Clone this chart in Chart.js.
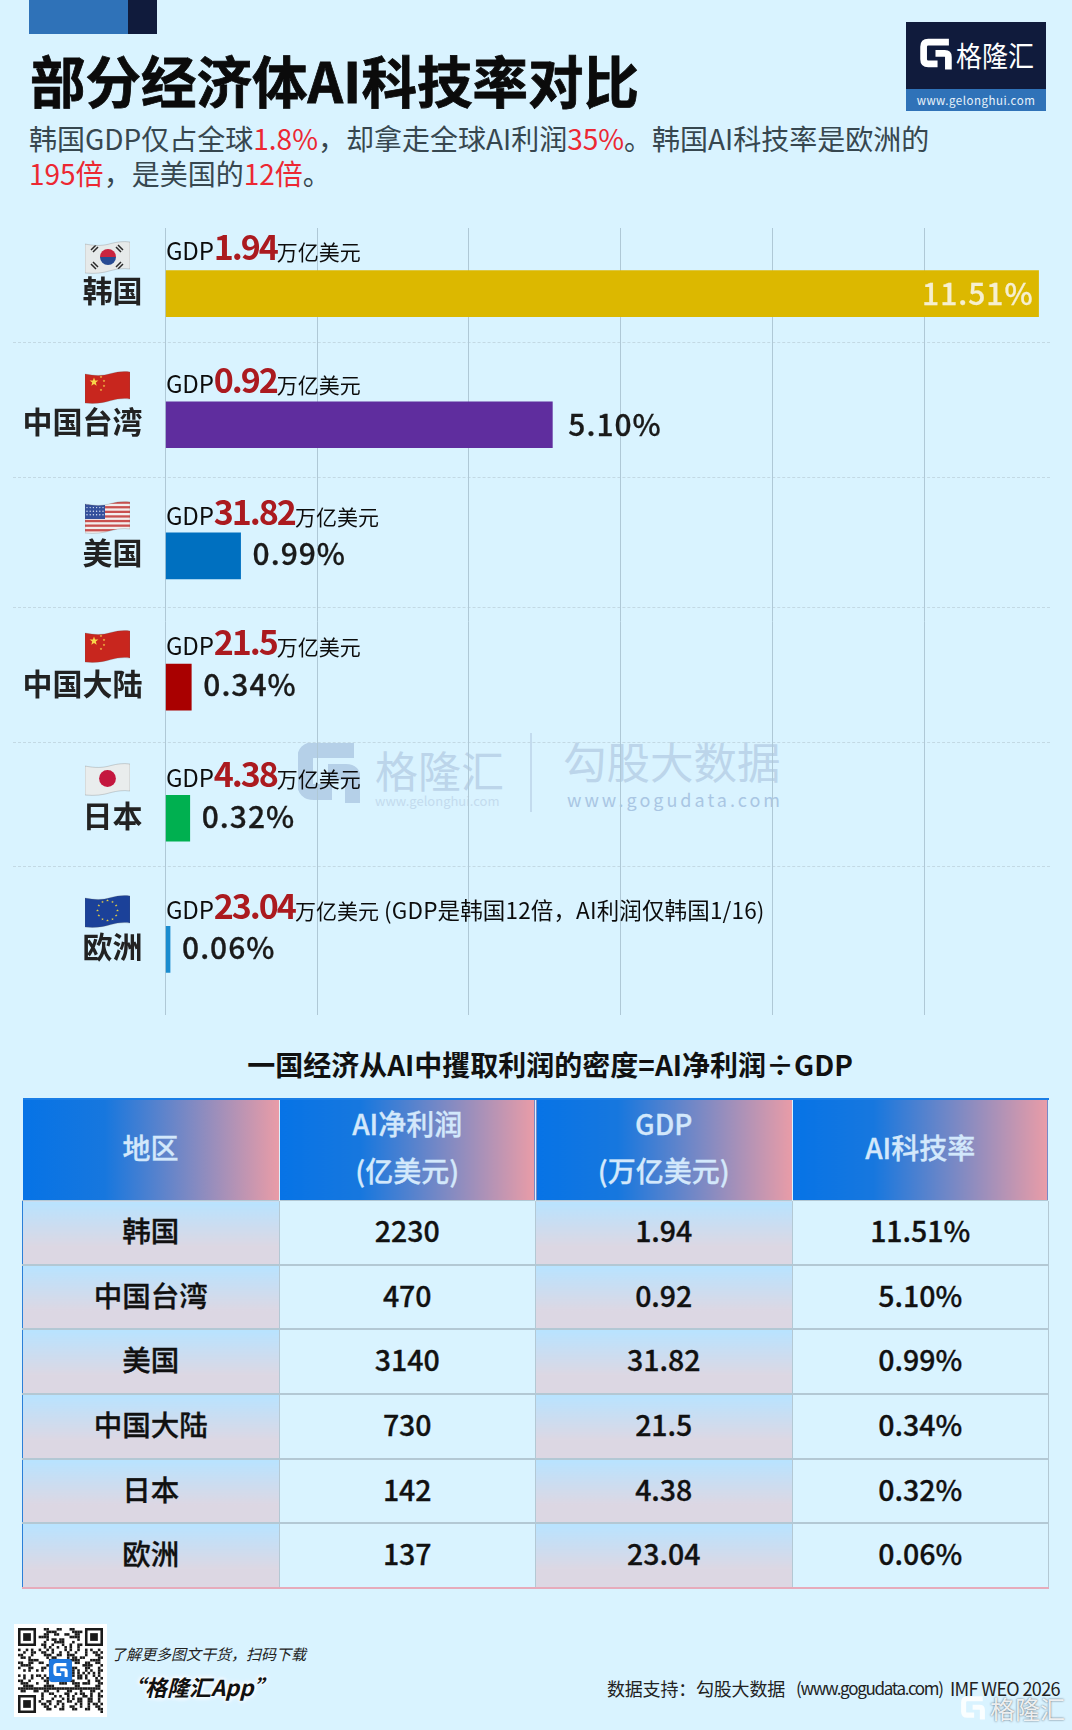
<!DOCTYPE html>
<html lang="zh-CN">
<head>
<meta charset="utf-8">
<title>部分经济体AI科技率对比</title>
<script src="https://cdn.jsdelivr.net/npm/chart.js@4/dist/chart.umd.min.js"></script>
<style>
  html, body { margin: 0; padding: 0; }
  body {
    position: relative; width: 1072px; height: 1730px; overflow: hidden;
    background: #d9f3ff; font-family: 'Noto Sans CJK SC', 'Noto Sans', sans-serif; color: #111;
  }
  .abs { position: absolute; white-space: nowrap; }
  h1 { position: absolute; left: 30px; top: 39px; margin: 0; font-size: 55.5px; line-height: 80px; font-weight: 700; color: #0b0b0b; -webkit-text-stroke: 0.8px #0b0b0b; white-space: nowrap; }
  .sub { font-size: 28px; line-height: 35px; color: #37474f; left: 29px; }
  .sub b { font-weight: 400; color: #ec2833; }
  #tableTitle { left: 0; width: 1100px; top: 1043px; text-align: center; font-size: 28px; line-height: 42px; font-weight: 700; color: #111; }
  table { position: absolute; left: 22px; top: 1098px; width: 1027px; border-collapse: collapse; table-layout: fixed; }
  th {
    height: 93px; padding: 0 0 6px 0; font-size: 28px; line-height: 47px; font-weight: 500; color: #d3e8fb;
    -webkit-text-stroke: 0.3px #d3e8fb;
    background: linear-gradient(90deg, #0673e6 0%, #1777de 32%, #e99ca7 100%);
    border-top: 2px solid #1a7de6; border-right: 1px solid #d9f3ff;
  }
  td {
    height: 56.7px; padding: 0 0 6px 0; text-align: center; font-size: 28.5px; font-weight: 500; color: #111;
    -webkit-text-stroke: 0.3px #111;
    border: 1px solid #b3c8d4; border-bottom-width: 2px;
  }
  td:nth-child(odd) { background: linear-gradient(180deg, #b8e3ff 0%, #dcd7e3 72%); }
  td:first-child { border-left: 1px solid #2b7fd8; }
  tr:last-child td { border-bottom: 2px solid #e6abbb; }
</style>
</head>
<body>
<div id="wm"></div>
<div id="rules"></div>
<canvas id="bars" class="abs" style="left:0;top:200px"></canvas>
<div id="flags"></div>

<div id="chrome"></div>
<h1>部分经济体AI科技率对比</h1>
<div class="abs sub" style="top:121px">韩国GDP仅占全球<b>1.8%</b>，却拿走全球AI利润<b>35%</b>。韩国AI科技率是欧洲的</div>
<div class="abs sub" style="top:156px"><b>195倍</b>，是美国的<b>12倍</b>。</div>

<div id="tableTitle" class="abs">一国经济从AI中攫取利润的密度=AI净利润÷GDP</div>
<table id="summary"></table>

<div class="abs" style="left:111px;top:1642px;font-size:15px;line-height:24px;font-style:italic;color:#222">了解更多图文干货，扫码下载</div>
<div class="abs" style="left:123px;top:1668px;font-size:22px;line-height:36px;font-weight:700;font-style:italic;color:#111;text-shadow:0 0 4px #fff,0 0 4px #fff,0 0 6px #fff">“格隆汇App”</div>
<div class="abs" style="left:607px;top:1674px;font-size:18px;line-height:28px;letter-spacing:-0.2px;color:#222">数据支持：勾股大数据</div>
<div class="abs" style="left:796px;top:1674px;font-size:17px;line-height:28px;letter-spacing:-1.3px;color:#222">(www.gogudata.com)</div>
<div class="abs" style="left:950px;top:1674px;font-size:18px;line-height:28px;letter-spacing:-0.65px;color:#222">IMF WEO 2026</div>

<script>
// chart data
var regions = ['韩国', '中国台湾', '美国', '中国大陆', '日本', '欧洲'];
var aiRate = [11.51, 5.10, 0.99, 0.34, 0.32, 0.06];
var aiProfit = [2230, 470, 3140, 730, 142, 137];
var gdpText = ['1.94', '0.92', '31.82', '21.5', '4.38', '23.04'];
var rateText = ['11.51%', '5.10%', '0.99%', '0.34%', '0.32%', '0.06%'];
var barColors = ['#dcb800', '#5f2d9e', '#0070c0', '#a90000', '#00b050', '#1a8ccf'];
var flagKinds = ['kr', 'cn', 'us', 'cn', 'jp', 'eu'];
var headerLines = [['地区'], ['AI净利润', '(亿美元)'], ['GDP', '(万亿美元)'], ['AI科技率']];

var FONT = "'Noto Sans CJK SC', 'Noto Sans', sans-serif";

// G mark of the logo, used at three sizes
function gMark(x, y, w, h, color, opacity, weight) {
  return '<svg class="abs" style="left:' + x + 'px;top:' + y + 'px" width="' + w + '" height="' + h + '" viewBox="0 0 62 64">' +
    '<g fill="none" stroke="' + color + '" stroke-opacity="' + (opacity || 1) + '" stroke-width="' + (weight || 13) + '">' +
    '<path d="M56,7 H16 Q7,7 7,16 V40 Q7,49 16,49 H34"/><path d="M30,29 H48 Q55,29 55,36 V60"/></g></svg>';
}

// page furniture: corner tab, logo, footer marks
(function renderChrome() {
  var html = '';
  html += '<div class="abs" style="left:29px;top:0;width:99px;height:34px;background:#2f72b8"></div>';
  html += '<div class="abs" style="left:128px;top:0;width:29px;height:34px;background:#101b3c"></div>';
  html += '<div class="abs" style="left:906px;top:22px;width:140px;height:67px;background:#101b3c"></div>';
  html += '<div class="abs" style="left:906px;top:89px;width:140px;height:22px;background:#2f72b8;color:#e8f2fb;font-size:11.5px;line-height:22px;text-align:center;letter-spacing:.5px">www.gelonghui.com</div>';
  html += gMark(920, 38, 32, 34, '#fff');
  html += '<div class="abs" style="left:956px;top:36px;font-size:26px;line-height:38px;color:#fff;transform:scaleY(1.1)">格隆汇</div>';

  // bottom right stamp
  html += gMark(958, 1696, 30, 25, '#fff', 0.85);
  html += '<div class="abs" style="left:990px;top:1690px;font-size:25px;line-height:36px;color:rgba(255,255,255,.9);text-shadow:0 0 2px rgba(60,70,80,.9)">格隆汇</div>';
  document.getElementById('chrome').innerHTML = html;

  // scan code, decorative modules only
  var n = 33, s = '';
  function finder(a, b) {
    s += '<path d="M' + a + ',' + b + 'h7v7h-7zM' + (a + 1) + ',' + (b + 1) + 'v5h5v-5z" fill-rule="evenodd"/><rect x="' + (a + 2) + '" y="' + (b + 2) + '" width="3" height="3"/>';
  }
  for (var i = 0; i < n; i++) {
    for (var j = 0; j < n; j++) {
      var inFinder = (i < 8 && j < 8) || (i < 8 && j >= n - 8) || (i >= n - 8 && j < 8);
      if (!inFinder && (i * i * 3 + j * 5 + i * j * 7 + (i ^ j)) % 5 < 2) {
        s += '<rect x="' + j + '" y="' + i + '" width="1" height="1"/>';
      }
    }
  }
  finder(0, 0); finder(n - 7, 0); finder(0, n - 7);
  var qr = '<div class="abs" style="left:14px;top:1624px;width:93px;height:93px;background:#fff">' +
    '<svg class="abs" style="left:4px;top:4px" width="85" height="85" viewBox="0 0 ' + n + ' ' + n + '" fill="#1a1a1a">' + s + '</svg>' +
    '<div class="abs" style="left:35px;top:35px;width:23px;height:23px;border-radius:3px;background:#1e78e0"></div>' +
    gMark(39, 39, 15, 15, '#fff') + '</div>';
  document.getElementById('chrome').insertAdjacentHTML('beforeend', qr);
})();

// watermark behind the bars
(function renderWatermark() {
  var ink = '#bcd5ea';
  var html = gMark(298, 743, 62, 64, '#b5d0e8', 1, 16);
  html += '<div class="abs" style="left:375px;top:736px;font-size:43px;line-height:66px;color:' + ink + '">格隆汇</div>';
  html += '<div class="abs" style="left:375px;top:792px;width:128px;font-size:13px;line-height:18px;color:#c3dbee">www.gelonghui.com</div>';
  html += '<div class="abs" style="left:530px;top:733px;width:2px;height:79px;background:#c3dbee"></div>';
  html += '<div class="abs" style="left:563px;top:728px;font-size:43.5px;line-height:66px;color:' + ink + '">勾股大数据</div>';
  html += '<div class="abs" style="left:567px;top:786px;font-size:18px;line-height:26px;color:#a9c6e3;letter-spacing:3px">www.gogudata.com</div>';
  document.getElementById('wm').innerHTML = html;
})();

// dashed separators between the rows
(function renderRules() {
  var tops = [342, 477, 607, 742, 866];
  document.getElementById('rules').innerHTML = tops.map(function (t) {
    return '<div class="abs" style="left:13px;top:' + t + 'px;width:1037px;border-top:1px dashed #c3d9e4"></div>';
  }).join('');
})();

// wavy flags next to the region names
(function renderFlags() {
  var tops = [241, 371, 501, 630, 763, 895];
  function star(cx, cy, r, fill) {
    var p = [];
    for (var k = 0; k < 10; k++) {
      var a = -Math.PI / 2 + k * Math.PI / 5, q = k % 2 ? r * 0.42 : r;
      p.push((cx + q * Math.cos(a)).toFixed(1) + ',' + (cy + q * Math.sin(a)).toFixed(1));
    }
    return '<polygon points="' + p.join(' ') + '" fill="' + fill + '"/>';
  }
  function art(kind) {
    var out = '', i;
    if (kind === 'cn') {
      out = '<rect width="45" height="33" fill="#c8261e"/>' + star(9, 11, 4.6, '#f7d64a');
      out += star(16, 6, 1.4, '#f7d64a') + star(19, 10, 1.4, '#f7d64a') + star(19, 15, 1.4, '#f7d64a') + star(16, 19, 1.4, '#f7d64a');
    } else if (kind === 'kr') {
      out = '<rect width="45" height="33" fill="#e6eaea"/>';
      out += '<path d="M15,16 a8,8 0 0 1 16,0 z" fill="#c9243f"/><path d="M15,16 a8,8 0 0 0 16,0 z" fill="#274b93"/>';
      out += '<g stroke="#2a2a2a" stroke-width="1.5"><path d="M6,9 l5,-5 M8,11 l5,-5 M33,4 l5,5 M31,6 l5,5 M6,23 l5,5 M8,21 l5,5 M33,28 l5,-5 M31,26 l5,-5"/></g>';
    } else if (kind === 'us') {
      out = '<rect width="45" height="33" fill="#f2eeee"/>';
      for (i = 0; i < 7; i++) out += '<rect y="' + (i * 4.6 + 0.5) + '" width="45" height="2.3" fill="#c9504f"/>';
      out += '<rect width="20" height="18" fill="#34509c"/>';
      out += '<g fill="#dfe6f5">';
      for (i = 0; i < 24; i++) out += '<circle cx="' + (2 + (i % 6) * 3.2) + '" cy="' + (3 + Math.floor(i / 6) * 3.6) + '" r=".7"/>';
      out += '</g>';
    } else if (kind === 'jp') {
      out = '<rect width="45" height="33" fill="#e9eded"/><circle cx="22.5" cy="15.5" r="8.4" fill="#c4173f"/>';
    } else if (kind === 'eu') {
      out = '<rect width="45" height="33" fill="#1b4199"/>';
      for (i = 0; i < 12; i++) {
        out += star(22.5 + 10 * Math.cos(i * Math.PI / 6), 15.5 + 10 * Math.sin(i * Math.PI / 6), 1.4, '#e6cf45');
      }
    }
    return out;
  }
  document.getElementById('flags').innerHTML = flagKinds.map(function (kind, idx) {
    var id = 'wave' + idx;
    var wave = 'M0,3 C10,5 18,5 26,2.5 C32,1 38,0 45,1 L45,28 C38,27 32,28 26,29.5 C18,32 10,33 0,32 Z';
    return '<svg class="abs" style="left:85px;top:' + tops[idx] + 'px" width="45" height="33" viewBox="0 0 45 33">' +
      '<defs><clipPath id="' + id + '"><path d="' + wave + '"/></clipPath></defs>' +
      '<g clip-path="url(#' + id + ')">' + art(kind) + '</g>' +
      '<path d="' + wave + '" fill="none" stroke="rgba(90,90,90,.35)" stroke-width=".7"/></svg>';
  }).join('');
})();

// summary table under the chart
(function renderTable() {
  var head = '<tr>' + headerLines.map(function (lines) {
    return '<th>' + lines.join('<br>') + '</th>';
  }).join('') + '</tr>';
  var body = regions.map(function (name, i) {
    return '<tr><td>' + name + '</td><td>' + aiProfit[i] + '</td><td>' + gdpText[i] + '</td><td>' + rateText[i] + '</td></tr>';
  }).join('');
  document.getElementById('summary').innerHTML = head + body;
})();

// "GDP x 万亿美元" line above each bar, rate text at the bar end
var barText = {
  id: 'barText',
  afterDatasetsDraw: function (chart) {
    var ctx = chart.ctx;
    var area = chart.chartArea;
    var bars = chart.getDatasetMeta(0).data;
    var gaps = [34, 32, 31, 32, 31, 30];
    ctx.save();

    bars.forEach(function (bar, i) {
      var x = area.left + 0.5;
      var base = bar.y - gaps[i];
      var parts = [
        ['GDP', '400 24px ' + FONT, '#0c0c0c', '-0.2px'],
        [gdpText[i], '700 34px ' + FONT, '#ab1a1f', '-2px'],
        ['万亿美元', '400 21px ' + FONT, '#0c0c0c', '0px']
      ];
      if (i === regions.length - 1) {
        parts.push([' (GDP是韩国12倍，AI利润仅韩国1/16)', '400 22.5px ' + FONT, '#0c0c0c', '0.15px']);
      }
      ctx.textBaseline = 'alphabetic';
      ctx.textAlign = 'left';
      parts.forEach(function (p) {
        ctx.font = p[1];
        ctx.fillStyle = p[2];
        ctx.letterSpacing = p[3];
        ctx.fillText(p[0], x, base);
        x += ctx.measureText(p[0]).width;
      });

      // first bar carries its rate inside, the others just past the end
      var y = bar.y + (i < 2 ? 0 : -2);
      ctx.font = '500 30px ' + FONT;
      ctx.letterSpacing = '1px';
      ctx.textBaseline = 'middle';
      ctx.lineWidth = 0.3;
      if (i === 0) {
        ctx.textAlign = 'right';
        ctx.fillStyle = ctx.strokeStyle = '#f6efcf';
        ctx.fillText(rateText[i], bar.x - 5, y);
        ctx.strokeText(rateText[i], bar.x - 5, y);
      } else {
        ctx.textAlign = 'left';
        ctx.fillStyle = ctx.strokeStyle = '#1a1a1a';
        ctx.fillText(rateText[i], bar.x + (i === 1 ? 16 : 12), y);
        ctx.strokeText(rateText[i], bar.x + (i === 1 ? 16 : 12), y);
      }
    });
    ctx.restore();
  }
};

(function renderBars() {
  var el = document.getElementById('bars');
  el.style.width = '1072px';
  el.style.height = '830px';
  new Chart(el.getContext('2d'), {
    type: 'bar',
    data: {
      labels: regions,
      datasets: [{
        data: aiRate,
        backgroundColor: barColors,
        barThickness: 46,
        borderWidth: 0
      }]
    },
    plugins: [barText],
    options: {
      indexAxis: 'y',
      responsive: false,
      animation: false,
      events: [],
      layout: { padding: { top: 28, right: 26.6, bottom: 15, left: 0 } },
      plugins: { legend: { display: false }, tooltip: { enabled: false } },
      scales: {
        x: {
          min: 0,
          max: 11.6,
          ticks: { display: false, stepSize: 2, includeBounds: false },
          grid: { color: '#afc8d6', drawTicks: false },
          border: { display: false },
          afterFit: function (scale) {
            scale.height = 0;
            scale.paddingTop = scale.paddingBottom = 0;
          }
        },
        y: {
          grid: { display: false },
          border: { display: false },
          ticks: {
            color: '#222',
            padding: 15,
            labelOffset: -3,
            autoSkip: false,
            font: { family: FONT, size: 30, weight: '700' }
          },
          afterFit: function (scale) {
            scale.width = 165.5;
            scale.paddingTop = scale.paddingBottom = 0;
          }
        }
      }
    }
  });
})();
</script>
</body>
</html>
